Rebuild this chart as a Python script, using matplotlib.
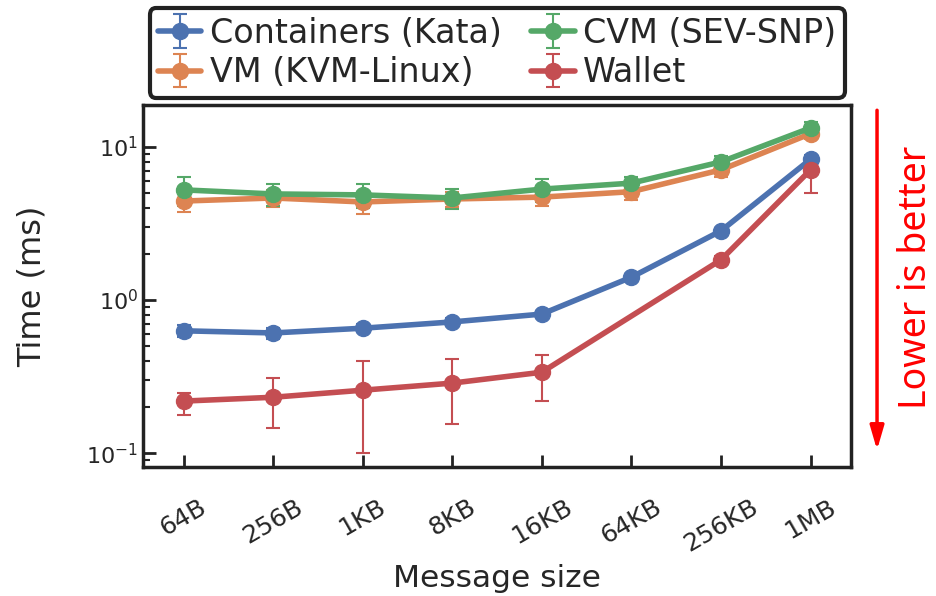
import numpy as np
import matplotlib
matplotlib.use("Agg")
import matplotlib.pyplot as plt
import seaborn as sns

sizes = ["64B", "256B", "1KB", "8KB", "16KB", "64KB", "256KB", "1MB"]

containers = [0.63, 0.61, 0.655, 0.72, 0.81, 1.41, 2.83, 8.3]
containers_err = [0.06, 0.05, 0.04, 0.04, 0.04, 0.06, 0.12, 0.5]

vm = [4.43, 4.64, 4.37, 4.57, 4.70, 5.10, 7.08, 12.2]
vm_err = [0.7, 0.6, 0.7, 0.5, 0.6, 0.6, 0.7, 1.0]

cvm = [5.24, 4.93, 4.86, 4.64, 5.30, 5.80, 7.98, 13.3]
cvm_err = [1.1, 0.8, 0.85, 0.7, 0.9, 0.6, 0.7, 1.3]

# wallet has no 64KB measurement
wallet_idx = [0, 1, 2, 3, 4, 6, 7]
wallet = [0.219, 0.232, 0.258, 0.287, 0.338, 1.83, 7.08]
wallet_lo = [0.04, 0.085, 0.158, 0.132, 0.118, 0.1, 2.1]
wallet_hi = [0.03, 0.078, 0.142, 0.123, 0.102, 0.1, 1.4]

sns.set_theme(style="ticks", palette="deep")
plt.rcParams["font.family"] = ["DejaVu Sans"]
pal = sns.color_palette("deep")

fig = plt.figure(figsize=(9.36, 5.96), dpi=100)
ax = fig.add_axes([0.153, 0.216, 0.756, 0.608])

x = np.arange(len(sizes))
style = dict(marker="o", markersize=11.5, linewidth=4, elinewidth=1.5, capsize=5, capthick=1.5)
ax.errorbar(x, containers, yerr=containers_err, color=pal[0], label="Containers (Kata)", **style)
ax.errorbar(x, vm, yerr=vm_err, color=pal[1], label="VM (KVM-Linux)", **style)
ax.errorbar(x, cvm, yerr=cvm_err, color=pal[2], label="CVM (SEV-SNP)", **style)
ax.errorbar(np.array(wallet_idx), wallet, yerr=[wallet_lo, wallet_hi], color=pal[3],
            label="Wallet", **style)

ax.set_yscale("log")
ax.set_ylim(0.081, 18.8)
ax.set_xlim(-0.45, 7.45)
ax.set_xticks(x)
ax.set_xticklabels(sizes, rotation=30, fontsize=18)
ax.tick_params(axis="y", labelsize=16)
ax.tick_params(which="both", direction="in", colors="#222222", labelcolor="#262626")
ax.tick_params(which="major", length=9, width=2)
ax.tick_params(which="minor", length=5, width=1.5)
ax.tick_params(axis="x", pad=20)
for s in ax.spines.values():
    s.set_linewidth(2.5)
    s.set_color("#222222")

ax.set_xlabel("Message size", fontsize=22.5, color="#262626", labelpad=5)
ax.set_ylabel("Time (ms)", fontsize=23, color="#262626", labelpad=28)

leg = ax.legend(loc="lower center", bbox_to_anchor=(0.5, 1.02), ncol=2, fontsize=24,
                frameon=True, fancybox=True, borderaxespad=0, columnspacing=0.9,
                handletextpad=0.25, labelspacing=0.2, borderpad=0.25, handlelength=1.3)
leg.get_frame().set_edgecolor("#222222")
leg.get_frame().set_linewidth(3)
leg.get_frame().set_alpha(1)

ax.annotate("", xy=(0.937, 0.245), xytext=(0.937, 0.815), xycoords="figure fraction",
            arrowprops=dict(arrowstyle="-|>,head_width=0.35,head_length=1.2", color="red",
                            lw=2.5, shrinkA=0, shrinkB=0))
fig.text(0.979, 0.534, "Lower is better", rotation=90, color="red", fontsize=27,
         ha="center", va="center", family=["Noto Sans", "DejaVu Sans"])

fig.savefig("out.png", dpi=100)
